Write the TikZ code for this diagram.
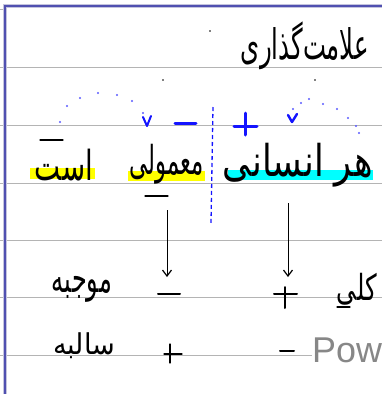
\documentclass[tikz,border=0pt]{standalone}
\usepackage{fontspec}
\setmainfont{Liberation Sans}
\newfontfamily\arabicfont[Script=Arabic]{DejaVu Sans}
\TeXXeTstate=1
\usetikzlibrary{arrows.meta}

\definecolor{ruleGray}{RGB}{180,180,180}
\definecolor{frameBlue}{RGB}{80,80,176}
\definecolor{frameHalo}{RGB}{196,196,222}
\definecolor{markBlue}{RGB}{20,20,255}
\definecolor{dotBlue}{RGB}{90,90,255}
\definecolor{hiYellow}{RGB}{255,255,0}
\definecolor{hiCyan}{RGB}{0,255,255}
\definecolor{logoGray}{RGB}{135,135,135}

\tikzset{
  ruling/.style={draw=ruleGray, line width=1bp},
  pen/.style={draw=black, line width=1.3bp, line cap=round},
  signpen/.style={draw=black, line width=2bp, line cap=round},
  bluemark/.style={draw=markBlue, line width=3bp, line cap=round},
  arcdot/.style={fill=dotBlue, draw=none},
  word/.style={inner sep=0pt, anchor=south, font=\arabicfont},
  downarrow/.style={draw=black, line width=1bp, -{Straight Barb[length=6bp,width=9bp,line width=1.2bp]}},
}

\begin{document}
\begin{tikzpicture}[x=1bp,y=-1bp]
\useasboundingbox (0,0) rectangle (382,394);
\fill[white] (0,0) rectangle (382,394);

% ruled notebook lines
\foreach \yy in {67,125,183,240,297,355}
  \draw[ruling] (0,\yy) -- (382,\yy);
\draw[ruling] (0,9) -- (5,9);

% page frame
\draw[frameHalo, line width=4bp] (5,394) -- (5,6) -- (382,6);
\draw[frameBlue, line width=1.6bp] (5,394) -- (5,6) -- (382,6);

% highlighter strokes
\fill[hiYellow] (30,168) rectangle (95,179);
\fill[hiYellow] (128,171) rectangle (205,181);
\fill[hiCyan] (228,170) rectangle (373,180);

% title
\node[word] (title) at (305,70) {\resizebox*{128bp}{48bp}{\beginR علامت‌گذاری\endR}};

% sentence
\node[word] (w1) at (298,187) {\resizebox*{150bp}{44bp}{\beginR هر انسانی\endR}};
\node[word] (w2) at (167,184) {\resizebox*{74bp}{40bp}{\beginR معمولی\endR}};
\node[word] (w3) at (64,181) {\resizebox*{58bp}{32bp}{\beginR است\endR}};
\draw[pen] (40,140) -- (63,140);
\draw[pen] (145,196) -- (168,196);

% blue divider and signs
\draw[draw=markBlue, line width=1.3bp, dash pattern=on 4bp off 3bp] (213,107) -- (211,223);
\draw[bluemark] (175,123) -- (196,123);
\draw[bluemark] (234,126) -- (257,126);
\draw[bluemark] (245,113) -- (245,135);

% dotted arcs with their little arrow marks
\foreach \px/\py in {60/122,67/106,80/98,98/93,117/95,132/101,143/113}
  \fill[arcdot] (\px,\py) circle (1.1bp);
\draw[draw=markBlue, line width=2bp, line cap=round, line join=round] (143,117) -- (147,126) -- (151,116);
\foreach \px/\py in {293/109,301/103,309/99,323/104,337/109,348/118,356/126,359/133}
  \fill[arcdot] (\px,\py) circle (1.1bp);
\draw[draw=markBlue, line width=2.4bp, line cap=round, line join=round] (288,115) -- (292,122) -- (297,114);

% stray pen dots
\fill (210,31) circle (0.8bp);
\fill (163,80) circle (0.8bp);
\fill (315,80) circle (0.8bp);

% arrows down from the two words
\coordinate (a1top) at (167,210);
\coordinate (a1end) at (167,277);
\coordinate (a2top) at (288,203);
\coordinate (a2end) at (288,277);
\draw[downarrow] (a1top) -- (a1end);
\draw[downarrow] (a2top) -- (a2end);

% first row: affirmative
\node[word] (r1) at (82,303) {\resizebox*{60bp}{26bp}{\beginR موجبه\endR}};
\draw[signpen] (158,294) -- (180,294);
\draw[signpen] (274,294) -- (297,294);
\draw[signpen] (285,287) -- (285,308);
\node[word] (r1b) at (357,305) {\resizebox*{40bp}{32bp}{\beginR کلی\endR}};
\draw[pen] (337,307) -- (350,307);

% second row: negative
\node[word] (r2) at (84,359) {\resizebox*{62bp}{26bp}{\beginR سالبه\endR}};
\draw[pen] (164,354) -- (182,354);
\draw[pen] (170,344) -- (170,363);
\draw[signpen] (280,351) -- (294,351);

% watermark
\node[anchor=base west, inner sep=0pt, fill=white, text=logoGray,
      font=\fontsize{36}{36}\selectfont] (logo) at (312,362) {Pow};
\end{tikzpicture}
\end{document}
